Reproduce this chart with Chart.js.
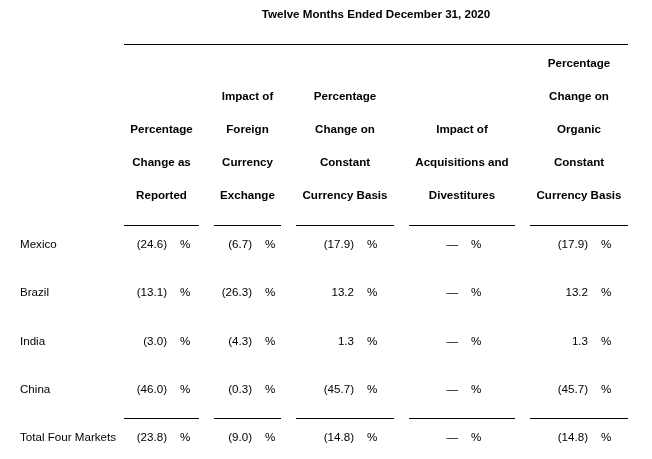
<!DOCTYPE html>
<html>
<head>
<meta charset="utf-8">
<script src="https://cdn.jsdelivr.net/npm/chart.js@4"></script>
<style>
    html, body { margin: 0; padding: 0; background: #fff; }
    #wrap { width: 652px; height: 459px; position: relative; }
</style>
</head>
<body>
<div id="wrap"><canvas id="tableChart"></canvas></div>
<script>
// data
const title = 'Twelve Months Ended December 31, 2020';
const markets = ['Mexico', 'Brazil', 'India', 'China', 'Total Four Markets'];
const columnHeaders = [
    ['Percentage', 'Change as', 'Reported'],
    ['Impact of', 'Foreign', 'Currency', 'Exchange'],
    ['Percentage', 'Change on', 'Constant', 'Currency Basis'],
    ['Impact of', 'Acquisitions and', 'Divestitures'],
    ['Percentage', 'Change on', 'Organic', 'Constant', 'Currency Basis']
];
const asReported = [-24.6, -13.1, -3.0, -46.0, -23.8];
const fxImpact = [-6.7, -26.3, -4.3, -0.3, -9.0];
const constantCurrency = [-17.9, 13.2, 1.3, -45.7, -14.8];
const acquisitions = [null, null, null, null, null];
const organicConstant = [-17.9, 13.2, 1.3, -45.7, -14.8];
const seriesList = [asReported, fxImpact, constantCurrency, acquisitions, organicConstant];

// layout (x in pixel units, y in row units)
const colSpans = [[124, 199], [214, 281], [296, 394], [409, 515], [530, 628]];
const numRight = [167, 252, 354, 458, 588];
const pctGap = 13;
const labelX = 20;
const headerBottomRow = -1.016;
const headerStep = 0.684;
const textNudge = 1;
const FONT = '"Liberation Sans", Arial, sans-serif';

function fmt(v) {
    if (v === null) return '\u2014';
    const s = Math.abs(v).toFixed(1);
    return v < 0 ? '(' + s + ')' : s;
}

const tablePlugin = {
    id: 'tablePlugin',
    afterDatasetsDraw(chart) {
        const { ctx } = chart;
        const xs = chart.scales.x, ys = chart.scales.y;
        const px = v => xs.getPixelForValue(v);
        const py = v => ys.getPixelForValue(v);
        ctx.save();
        ctx.fillStyle = '#000';
        ctx.strokeStyle = '#000';
        ctx.lineWidth = 1;
        ctx.textBaseline = 'middle';

        const rule = (x1, x2, yv) => {
            const y = Math.round(py(yv)) + 0.5;
            ctx.beginPath();
            ctx.moveTo(px(x1), y);
            ctx.lineTo(px(x2), y);
            ctx.stroke();
        };

        // title + top rule
        ctx.font = 'bold 11.6px ' + FONT;
        ctx.textAlign = 'center';
        ctx.fillText(title, (px(colSpans[0][0]) + px(colSpans[4][1])) / 2, py(-4.767) + textNudge);
        rule(colSpans[0][0], colSpans[4][1], -4.145);

        // column headers, bottom aligned
        columnHeaders.forEach((lines, c) => {
            const cx = (px(colSpans[c][0]) + px(colSpans[c][1])) / 2;
            const n = lines.length;
            lines.forEach((line, i) => {
                ctx.fillText(line, cx, py(headerBottomRow - (n - 1 - i) * headerStep) + textNudge);
            });
            rule(colSpans[c][0], colSpans[c][1], -0.394);
            rule(colSpans[c][0], colSpans[c][1], markets.length - 1 - 0.394);
        });

        // row labels
        ctx.font = '11.6px ' + FONT;
        ctx.textAlign = 'left';
        markets.forEach((m, r) => ctx.fillText(m, px(labelX), py(r) + textNudge));

        // cells from dataset elements
        chart.data.datasets.forEach((ds, c) => {
            const meta = chart.getDatasetMeta(c);
            meta.data.forEach((pt, r) => {
                ctx.textAlign = 'right';
                ctx.fillText(fmt(seriesList[c][r]), pt.x, pt.y + textNudge);
                ctx.textAlign = 'left';
                ctx.fillText('%', pt.x + pctGap, pt.y + textNudge);
            });
        });
        ctx.restore();
    }
};

new Chart(document.getElementById('tableChart'), {
    type: 'scatter',
    data: {
        datasets: seriesList.map((vals, c) => ({
            label: columnHeaders[c].join(' '),
            data: vals.map((v, r) => ({ x: numRight[c], y: r })),
            pointRadius: 0,
            showLine: false
        }))
    },
    options: {
        responsive: true,
        maintainAspectRatio: false,
        animation: false,
        layout: { padding: 0 },
        plugins: {
            legend: { display: false },
            tooltip: { enabled: false }
        },
        scales: {
            x: { type: 'linear', display: false, min: 0, max: 652 },
            y: { type: 'linear', display: false, reverse: true, min: -5.057, max: 4.456 }
        }
    },
    plugins: [tablePlugin]
});
</script>
</body>
</html>
